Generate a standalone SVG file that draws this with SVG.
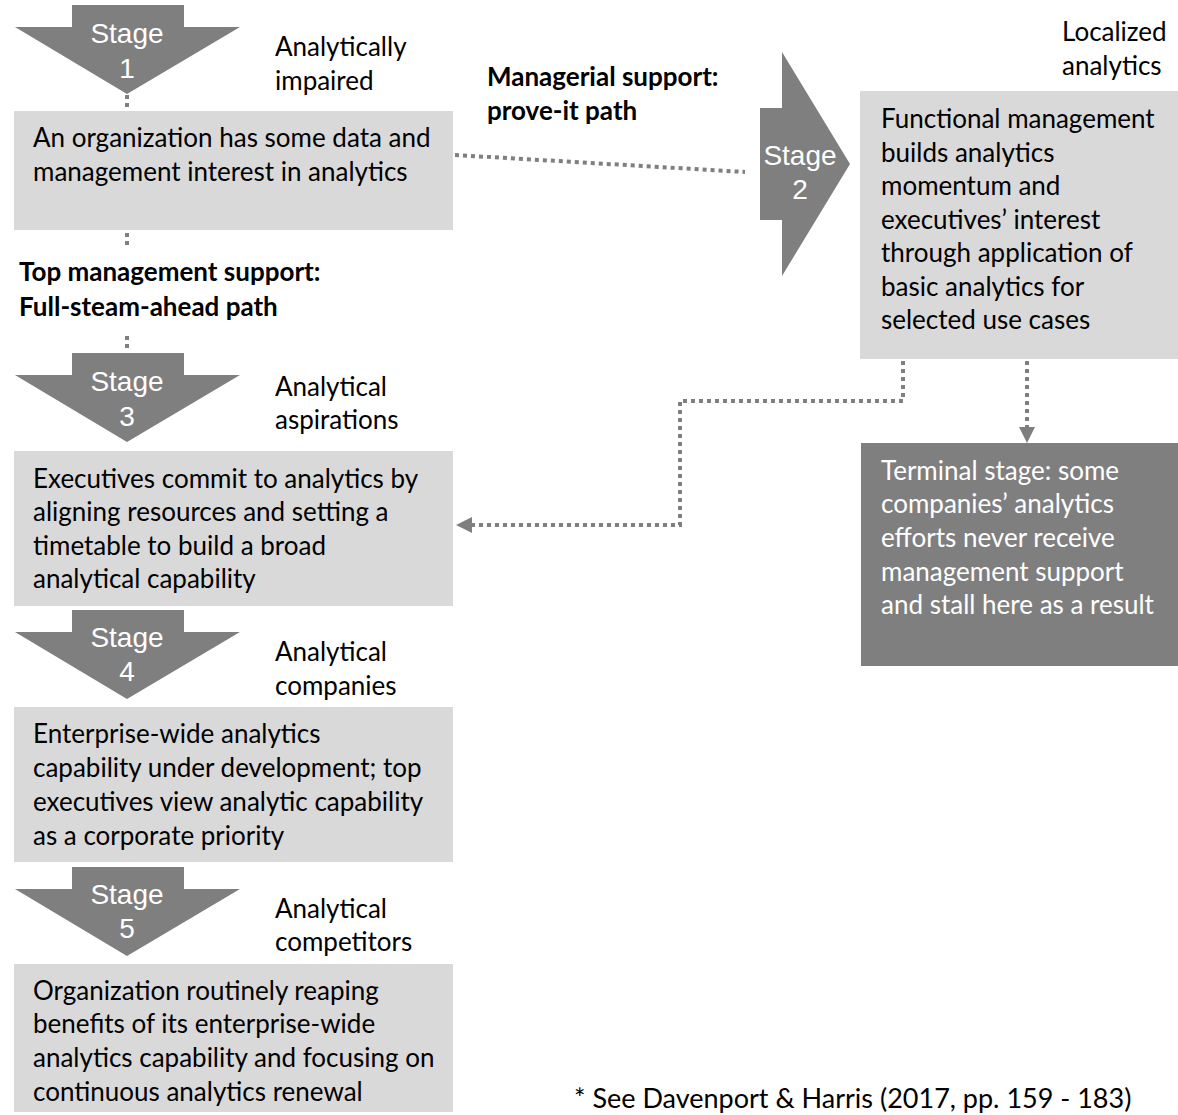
<svg xmlns="http://www.w3.org/2000/svg" xmlns:xlink="http://www.w3.org/1999/xlink" width="1178" height="1115" viewBox="0 0 1178 1115">
  <style>
    .txt { font-family: Lato, "Open Sans", "DejaVu Sans", sans-serif; font-size: 26px; fill: #000; }
    .bold { font-weight: bold; }
    .white { fill: #fff; }
    .stage { font-family: "Liberation Sans", Arial, sans-serif; font-size: 28px; fill: #fff; text-anchor: middle; }
    .box { fill: #d9d9d9; }
    .dark { fill: #7f7f7f; }
    .dot { fill: none; stroke: #7f7f7f; stroke-width: 4; stroke-dasharray: 4 4; }
    .cite { font-family: Lato, "Open Sans", sans-serif; font-size: 27px; fill: #000; }
  </style>
  <defs>
    <!-- downward chevron used for stages 1, 3, 4, 5 -->
    <path id="chevDown" d="M57,0 H169 V22 H225 L112,89 L0,22 H57 Z" fill="#7f7f7f"/>
    <marker id="head" viewBox="0 0 16 16" refX="0" refY="8" markerWidth="16" markerHeight="16" orient="auto" markerUnits="userSpaceOnUse">
      <path d="M0,0 L16,8 L0,16 Z" fill="#7f7f7f"/>
    </marker>
  </defs>

  <!-- connectors -->
  <g id="connectors">
    <path class="dot" d="M127,95 V110"/>
    <path class="dot" d="M127,233 V247"/>
    <path class="dot" d="M127,336 V352"/>
    <path class="dot" d="M455,155 L745,172"/>
    <path class="dot" d="M903,361 V401 H680 V525 H472" marker-end="url(#head)"/>
    <path class="dot" d="M1027,361 V427" marker-end="url(#head)"/>
  </g>

  <!-- Stage 1 -->
  <g id="stage1">
    <use xlink:href="#chevDown" x="15" y="5"/>
    <text class="stage" x="127" y="43">Stage</text>
    <text class="stage" x="127" y="78">1</text>
    <text class="txt" x="275" y="56">Analytically</text>
    <text class="txt" x="275" y="90">impaired</text>
  </g>
  <g id="box1">
    <rect class="box" x="14" y="111" width="439" height="119"/>
    <text class="txt" x="33" y="147">An organization has some data and</text>
    <text class="txt" x="33" y="181">management interest in analytics</text>
  </g>

  <!-- path labels -->
  <g id="label-prove-it">
    <text class="txt bold" x="487" y="86">Managerial support:</text>
    <text class="txt bold" x="487" y="120">prove-it path</text>
  </g>
  <g id="label-full-steam">
    <text class="txt bold" x="19" y="281">Top management support:</text>
    <text class="txt bold" x="19" y="316">Full-steam-ahead path</text>
  </g>

  <!-- Stage 2 -->
  <g id="stage2">
    <path class="dark" d="M760,108 H782 V52 L850,164 L782,276 V220 H760 Z"/>
    <text class="stage" x="800" y="165">Stage</text>
    <text class="stage" x="800" y="199">2</text>
    <text class="txt" x="1062" y="41">Localized</text>
    <text class="txt" x="1062" y="75">analytics</text>
  </g>
  <g id="box2">
    <rect class="box" x="860" y="91" width="318" height="268"/>
    <text class="txt" x="881" y="128">Functional management</text>
    <text class="txt" x="881" y="162">builds analytics</text>
    <text class="txt" x="881" y="195">momentum and</text>
    <text class="txt" x="881" y="229">executives’ interest</text>
    <text class="txt" x="881" y="262">through application of</text>
    <text class="txt" x="881" y="296">basic analytics for</text>
    <text class="txt" x="881" y="329">selected use cases</text>
  </g>

  <!-- Terminal stage -->
  <g id="terminal">
    <rect class="dark" x="861" y="443" width="317" height="223"/>
    <text class="txt white" x="881" y="480">Terminal stage: some</text>
    <text class="txt white" x="881" y="513">companies’ analytics</text>
    <text class="txt white" x="881" y="547">efforts never receive</text>
    <text class="txt white" x="881" y="581">management support</text>
    <text class="txt white" x="881" y="614">and stall here as a result</text>
  </g>

  <!-- Stage 3 -->
  <g id="stage3">
    <use xlink:href="#chevDown" x="15" y="353"/>
    <text class="stage" x="127" y="391">Stage</text>
    <text class="stage" x="127" y="426">3</text>
    <text class="txt" x="275" y="396">Analytical</text>
    <text class="txt" x="275" y="429">aspirations</text>
  </g>
  <g id="box3">
    <rect class="box" x="14" y="451" width="439" height="155"/>
    <text class="txt" x="33" y="488">Executives commit to analytics by</text>
    <text class="txt" x="33" y="521">aligning resources and setting a</text>
    <text class="txt" x="33" y="555">timetable to build a broad</text>
    <text class="txt" x="33" y="588">analytical capability</text>
  </g>

  <!-- Stage 4 -->
  <g id="stage4">
    <use xlink:href="#chevDown" x="15" y="610"/>
    <text class="stage" x="127" y="647">Stage</text>
    <text class="stage" x="127" y="681">4</text>
    <text class="txt" x="275" y="661">Analytical</text>
    <text class="txt" x="275" y="695">companies</text>
  </g>
  <g id="box4">
    <rect class="box" x="14" y="707" width="439" height="155"/>
    <text class="txt" x="33" y="743">Enterprise-wide analytics</text>
    <text class="txt" x="33" y="777">capability under development; top</text>
    <text class="txt" x="33" y="811">executives view analytic capability</text>
    <text class="txt" x="33" y="845">as a corporate priority</text>
  </g>

  <!-- Stage 5 -->
  <g id="stage5">
    <use xlink:href="#chevDown" x="15" y="867"/>
    <text class="stage" x="127" y="904">Stage</text>
    <text class="stage" x="127" y="938">5</text>
    <text class="txt" x="275" y="918">Analytical</text>
    <text class="txt" x="275" y="951">competitors</text>
  </g>
  <g id="box5">
    <rect class="box" x="14" y="964" width="439" height="148"/>
    <text class="txt" x="33" y="1000">Organization routinely reaping</text>
    <text class="txt" x="33" y="1033">benefits of its enterprise-wide</text>
    <text class="txt" x="33" y="1067">analytics capability and focusing on</text>
    <text class="txt" x="33" y="1101">continuous analytics renewal</text>
  </g>

  <!-- source note -->
  <text class="cite" x="574" y="1108">* See Davenport &amp; Harris (2017, pp. 159 - 183)</text>
</svg>
